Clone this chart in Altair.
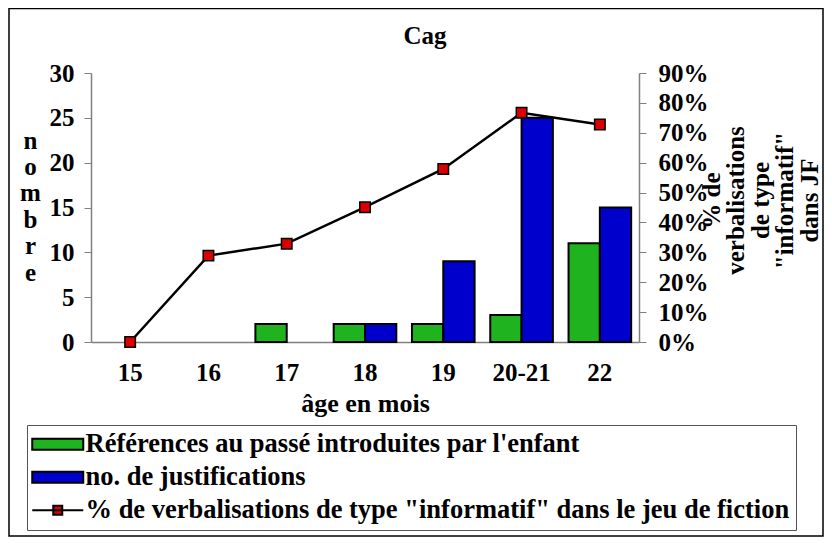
import altair as alt
import pandas as pd

ages = ["15", "16", "17", "18", "19", "20-21", "22"]
refs = [0, 0, 2, 2, 2, 3, 11]
justif = [0, 0, 0, 2, 9, 25, 15]
pct = [0.0, 0.289, 0.329, 0.451, 0.579, 0.767, 0.728]

s_refs = "Références au passé introduites par l'enfant"
s_just = "no. de justifications"
s_pct = "% de verbalisations de type \"informatif\" dans le jeu de fiction"
series_names = [s_refs, s_just, s_pct]
colors = ["#1FB41F", "#0000CC", "#DD0000"]

FONT = "Liberation Serif"
FS = 25

bars_df = pd.DataFrame(
    [{"age": a, "series": s_refs, "value": v} for a, v in zip(ages, refs)]
    + [{"age": a, "series": s_just, "value": v} for a, v in zip(ages, justif)]
)
pct_df = pd.DataFrame({"age": ages, "pct": pct})
legend_df = pd.DataFrame({"series": series_names})

W, H = 548, 269

x_enc = alt.X(
    "age:N",
    sort=ages,
    scale=alt.Scale(domain=ages, paddingInner=0.2, paddingOuter=0.1),
    axis=alt.Axis(
        title="âge en mois",
        labelAngle=0,
        tickSize=0,
        labelPadding=18,
        titlePadding=5,
        titleFontSize=26,
        domainColor="#808080",
        domainWidth=1.5,
    ),
)

bars = (
    alt.Chart(bars_df)
    .transform_filter("datum.value > 0")
    .mark_bar(stroke="black", strokeWidth=2, opacity=1)
    .encode(
        x=x_enc,
        xOffset=alt.XOffset(
            "series:N",
            scale=alt.Scale(domain=[s_refs, s_just], paddingInner=0, paddingOuter=0),
        ),
        y=alt.Y(
            "value:Q",
            scale=alt.Scale(domain=[0, 30]),
            axis=alt.Axis(
                values=[0, 5, 10, 15, 20, 25, 30],
                title=["n", "o", "m", "b", "r", "e"],
                titleAngle=0,
                titleX=-61,
                titleY=67,
                titleBaseline="middle",
                titleAlign="center",
                titleLineHeight=26.4,
                tickSize=7,
                labelPadding=10,
                grid=False,
                domainColor="#808080",
                tickColor="#808080",
                domainWidth=1.5,
            ),
        ),
        color=alt.Color(
            "series:N",
            scale=alt.Scale(domain=[s_refs, s_just], range=colors[:2]),
            legend=None,
        ),
    )
)

pct_axis = alt.Axis(
    orient="right",
    format=".0%",
    values=[0, 0.1, 0.2, 0.3, 0.4, 0.5, 0.6, 0.7, 0.8, 0.9],
    title=["% de", "verbalisations", "de type", "\"informatif\"", "dans JF"],
    titleAngle=270,
    titleX=72,
    titleY=127,
    titleBaseline="middle",
    titleAlign="center",
    titleLineHeight=24.5,
    tickSize=7,
    labelPadding=12,
    grid=False,
    domainColor="#808080",
    tickColor="#808080",
    domainWidth=1.5,
)

y_pct = alt.Y("pct:Q", scale=alt.Scale(domain=[0, 0.9]), axis=pct_axis)

line = alt.Chart(pct_df).mark_line(color="black", strokeWidth=2.5).encode(
    x=alt.X("age:N", sort=ages), y=y_pct
)
points = alt.Chart(pct_df).mark_square(
    size=110, fill="#DD0000", stroke="black", strokeWidth=1.5, opacity=1
).encode(x=alt.X("age:N", sort=ages), y=y_pct)

pct_layer = alt.layer(line, points)

# legend symbols: unit = 10 px (symbolSize 400)
rect_path = "M-1.4,-0.55H3.7V0.55H-1.4Z"
line_path = "M-1.4,0H3.7M0.7,-0.45H1.6V0.45H0.7Z"

leg = alt.Legend(
    title=None,
    orient="none",
    legendX=-64,
    legendY=352,
    padding=6,
    strokeColor="#555555",
    symbolSize=400,
    symbolStrokeWidth=2,
    symbolOpacity=1,
    labelFont=FONT,
    labelFontSize=26.5,
    labelFontWeight="bold",
    labelColor="black",
    labelLimit=2000,
    labelOffset=26,
    rowPadding=6,
)

legend_layer = (
    alt.Chart(legend_df)
    .transform_filter("false")
    .mark_point(filled=False, strokeWidth=2, opacity=1)
    .encode(
        fill=alt.Fill(
            "series:N",
            scale=alt.Scale(domain=series_names, range=colors),
            legend=leg,
        ),
        stroke=alt.Stroke(
            "series:N",
            scale=alt.Scale(domain=series_names, range=["black", "black", "black"]),
            legend=leg,
        ),
        shape=alt.Shape(
            "series:N",
            scale=alt.Scale(domain=series_names, range=[rect_path, rect_path, line_path]),
            legend=leg,
        ),
    )
)

frame = alt.Chart(legend_df).transform_filter("datum.series == '" + s_just + "'").mark_rect(
    fill=None, stroke="black", strokeWidth=1.5
).encode(
    x=alt.value(-82), x2=alt.value(732), y=alt.value(-64.5), y2=alt.value(463)
)

chart = (
    alt.layer(frame, bars, pct_layer, legend_layer)
    .resolve_scale(y="independent")
    .properties(
        width=W,
        height=H,
        title=alt.Title(
            "Cag",
            fontSize=FS,
            font=FONT,
            fontWeight="bold",
            color="black",
            frame="group",
            anchor="middle",
            baseline="alphabetic",
            dx=60,
            dy=61,
            offset=0,
        ),
        autosize=alt.AutoSizeParams(type="none"),
        padding={"left": 83, "top": 65, "right": 185, "bottom": 195},
    )
    .configure_view(stroke=None)
    .configure_axis(
        labelFont=FONT,
        labelFontSize=FS,
        labelFontWeight="bold",
        labelColor="black",
        titleFont=FONT,
        titleFontSize=FS,
        titleFontWeight="bold",
        titleColor="black",
    )
)

chart.save("out.html", embed_options={"renderer": "svg", "actions": False})
